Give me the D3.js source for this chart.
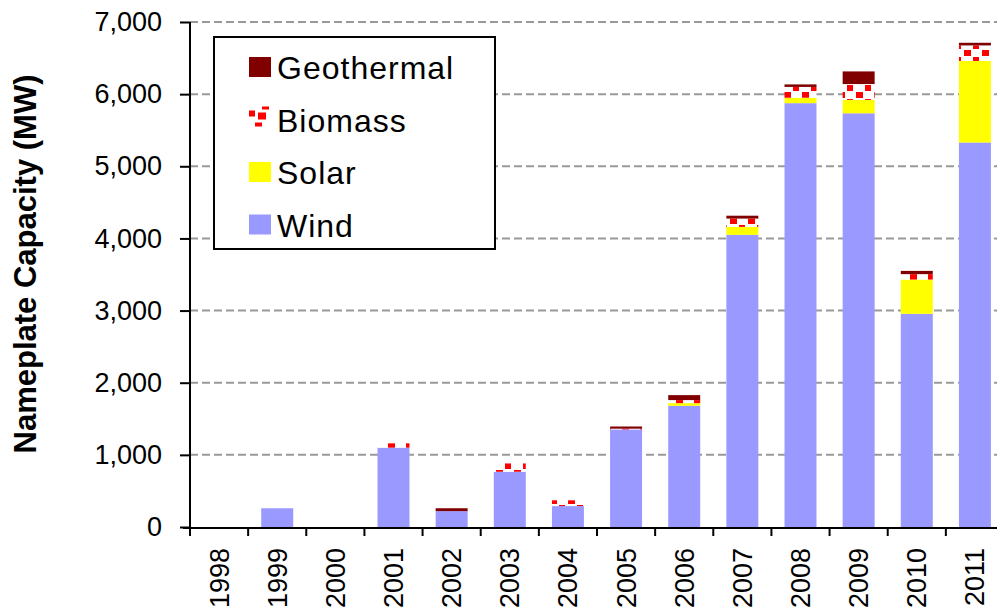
<!DOCTYPE html>
<html><head><meta charset="utf-8">
<script src="https://cdn.jsdelivr.net/npm/d3@7"></script>
<style>
html,body{margin:0;padding:0;background:#fff;}
text{font-family:Arial,"Liberation Sans",sans-serif;}
</style></head>
<body><svg id="c" width="997" height="612"></svg>
<script>
const years = ["1998","1999","2000","2001","2002","2003","2004","2005","2006","2007","2008","2009","2010","2011"];
const wind = [0, 260, 0, 1100, 220, 766, 290, 1353, 1680, 4050, 5875, 5735, 2955, 5330];
const solar = [0, 0, 0, 0, 0, 0, 0, 0, 37, 110, 75, 185, 475, 1130];
const biomass = [0, 0, 0, 60, 0, 115, 80, 10, 42, 115, 150, 220, 75, 215];
const geothermal = [0, 0, 0, 0, 40, 0, 0, 30, 69, 40, 35, 175, 45, 37];
const seriesNames = ["Wind","Solar","Biomass","Geothermal"];
const legendItems = ["Geothermal","Biomass","Solar","Wind"];
const yTicks = [0,1000,2000,3000,4000,5000,6000,7000];

const svg = d3.select("#c");
const defs = svg.append("defs");
const pat = defs.append("pattern").attr("id","bio").attr("patternUnits","userSpaceOnUse")
  .attr("width",18).attr("height",14);
pat.append("rect").attr("width",18).attr("height",14).attr("fill","#fff");
pat.append("rect").attr("x",1).attr("y",1).attr("width",6).attr("height",6).attr("fill","#f00");
pat.append("rect").attr("x",10).attr("y",8).attr("width",7).attr("height",6).attr("fill","#f00");

const colors = {Wind:"#9999ff", Solar:"#ffff00", Biomass:"url(#bio)", Geothermal:"#800000"};

const x = d3.scaleBand().domain(years).range([190, 1004]).padding(0);
const y = d3.scaleLinear().domain([0,7000]).range([527, 22]);

// gridlines
svg.append("g").selectAll("line").data(yTicks.filter(d=>d>0)).join("line")
  .attr("x1",190).attr("x2",1004).attr("y1",d=>y(d)).attr("y2",d=>y(d))
  .attr("stroke","#999").attr("stroke-width",2).attr("stroke-dasharray","8,4");

// stacked bars
const table = years.map((yr,i)=>({year:yr, Wind:wind[i], Solar:solar[i], Biomass:biomass[i], Geothermal:geothermal[i]}));
const stack = d3.stack().keys(seriesNames)(table);
const bw = x.bandwidth()*0.55;
svg.append("g").selectAll("g").data(stack).join("g")
  .attr("fill",d=>colors[d.key])
  .selectAll("rect").data(d=>d).join("rect")
  .attr("x",d=>x(d.data.year)+(x.bandwidth()-bw)/2)
  .attr("width",bw)
  .attr("y",d=>y(d[1]))
  .attr("height",d=>Math.max(0,y(d[0])-y(d[1])));

// y axis
const yAxis = d3.axisLeft(y).tickValues(yTicks).tickFormat(d3.format(",")).tickSize(10).tickPadding(18);
const gy = svg.append("g").attr("transform","translate(190,0)").call(yAxis);
gy.select(".domain").attr("stroke","#000").attr("stroke-width",2).attr("d","M0,22V528");
gy.selectAll(".tick line").attr("stroke","#000").attr("stroke-width",2);
gy.selectAll(".tick text").attr("font-size",27).attr("fill","#000").attr("font-family","Arial, Liberation Sans, sans-serif");

// x axis
const xAxis = d3.axisBottom(x).tickSize(0).tickPadding(0);
const gx = svg.append("g").attr("transform","translate(0,528)").call(xAxis);
gx.select(".domain").attr("stroke","#000").attr("stroke-width",2).attr("d","M183,0H1004");
gx.selectAll(".tick text").attr("font-size",27).attr("fill","#000")
  .attr("font-family","Arial, Liberation Sans, sans-serif")
  .attr("text-anchor","end").attr("dy","0.35em")
  .attr("transform","translate(0,20) rotate(-90)");
svg.append("g").selectAll("line").data(d3.range(years.length+1)).join("line")
  .attr("x1",i=>x.range()[0]+i*x.step()).attr("x2",i=>x.range()[0]+i*x.step())
  .attr("y1",527).attr("y2",536).attr("stroke","#000").attr("stroke-width",2);

// y title
svg.append("text").attr("transform","translate(36,264) rotate(-90)")
  .attr("text-anchor","middle").attr("font-size",31).attr("font-weight","bold")
  .attr("fill","#000").text("Nameplate Capacity (MW)");

// legend
const lg = svg.append("g");
lg.append("rect").attr("x",214).attr("y",37).attr("width",281).attr("height",212)
  .attr("fill","#fff").attr("stroke","#000").attr("stroke-width",2);
const li = lg.selectAll("g.li").data(legendItems).join("g").attr("class","li")
  .attr("transform",(d,i)=>`translate(0,${i*52.5})`);
li.filter(d=>d!=="Biomass").append("rect").attr("x",249).attr("y",57).attr("width",22).attr("height",20)
  .attr("fill",d=>colors[d]);
const bioG = li.filter(d=>d==="Biomass").append("g").attr("fill","#f00");
[[249,58,6,6],[258,60,8,7],[262,54,7,3],[255,70,7,4]].forEach(r=>{
  bioG.append("rect").attr("x",r[0]).attr("y",r[1]).attr("width",r[2]).attr("height",r[3]);
});
li.append("text").attr("x",277).attr("y",79).attr("font-size",32).attr("letter-spacing",1)
  .attr("fill","#000").text(d=>d);
</script></body></html>
